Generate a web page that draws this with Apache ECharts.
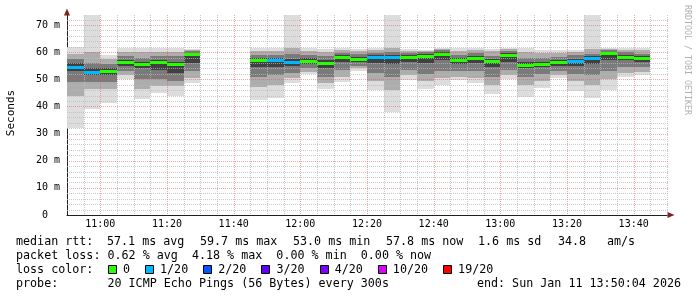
<!DOCTYPE html>
<html><head><meta charset="utf-8">
<script src="https://cdn.jsdelivr.net/npm/echarts@6/dist/echarts.min.js"></script>
<style>html,body{margin:0;padding:0;background:#fff}#c{width:697px;height:297px}</style>
</head><body><div id="c"></div>
<script>
// ---- data (ms), one entry per 5-minute bin ----
const binTimes = ['10:50','10:55','11:00','11:05','11:10','11:15','11:20','11:25',
  '11:45','11:50','11:55','12:00','12:05','12:10','12:15','12:20','12:25','12:30','12:35','12:40',
  '12:45','12:50','12:55','13:00','13:05','13:10','13:15','13:20','13:25','13:30','13:35','13:40'];
const pingMin = [31.9,38.9,41.4,50.3,42.6,45.1,43.8,48.8, 42.4,43.2,48.8,51.9,46.4,49.1,53.0,46.1,37.8,49.7,46.4,47.9, 49.7,48.8,44.6,50.0,43.6,46.9,50.6,45.8,43.2,46.1,51.0,51.6];
const ping3   = [44.0,46.5,46.5,51.5,46.5,47.5,47.5,50.5, 47.0,48.0,50.5,52.8,48.5,51.0,54.0,49.5,46.0,51.5,49.5,50.5, 51.0,50.5,48.0,51.5,48.0,49.5,51.5,49.5,48.0,50.0,52.5,52.8];
const ping6   = [49.0,49.0,49.0,53.0,50.0,50.0,49.5,53.0, 51.0,51.5,52.5,54.0,51.0,53.5,55.0,52.5,51.0,53.5,52.0,53.0, 53.0,53.0,51.0,53.5,51.0,52.0,53.0,52.0,51.5,53.0,54.5,54.5];
const ping9   = [53.0,51.5,51.5,55.0,54.0,53.5,52.5,56.0, 54.5,54.5,55.0,55.5,54.0,56.5,56.5,56.0,55.5,56.5,56.0,57.0, 55.5,56.0,54.5,56.5,54.0,54.5,55.0,55.0,55.5,57.0,57.0,56.5];
const medianRtt = [54.6,52.8,53.0,56.5,55.5,56.5,55.6,59.3, 57.3,57.1,56.5,56.9,55.9,58.1,57.5,58.3,58.3,58.1,58.6,59.3, 57.3,58.0,56.7,59.0,55.3,55.6,56.2,56.7,57.7,59.6,58.3,57.7];
const ping12  = [56.0,54.0,54.0,57.3,56.5,57.3,56.5,59.8, 58.0,58.0,57.5,57.7,57.0,58.8,58.3,58.9,59.0,58.8,59.2,60.0, 58.0,58.7,57.5,59.6,56.3,56.5,57.0,57.5,58.5,60.2,59.0,58.5];
const ping15  = [57.5,56.0,55.5,58.5,58.0,58.5,58.5,60.3, 59.0,59.0,59.5,59.0,58.5,59.8,59.3,59.8,60.0,59.8,59.9,60.7, 59.0,59.7,58.7,60.3,58.0,58.0,58.3,58.8,59.5,60.8,60.0,59.5];
const ping18  = [59.5,60.0,57.5,60.0,60.0,60.0,60.0,60.7, 60.5,60.5,61.5,60.5,60.0,60.8,60.5,60.8,61.5,60.5,60.5,61.3, 60.5,60.8,60.3,61.0,60.0,59.8,59.8,60.2,61.3,61.2,60.8,60.7];
const pingMax = [61.8,73.7,58.9,61.4,61.4,61.4,61.4,61.0, 61.6,61.6,73.7,61.6,61.0,61.6,61.3,61.6,73.7,61.0,60.8,61.6, 61.6,61.6,61.0,61.4,61.4,60.8,60.8,60.8,73.7,61.4,61.4,61.4];
const lossCount = [1,1,0,0,0,0,0,0, 0,1,1,0,0,0,0,1,1,0,0,0, 0,0,0,0,0,0,0,1,1,0,0,0];

const xTickLabels = ['11:00','11:20','11:40','12:00','12:20','12:40','13:00','13:20','13:40'];
const yTickLabels = ['0  ','10 m','20 m','30 m','40 m','50 m','60 m','70 m'];
const lossLegendLabels = ['0','1/20','2/20','3/20','4/20','10/20','19/20'];
const lossLegendCounts = [0,1,2,3,4,10,19];
const lossLegendColors = ['#26ff00','#00b8ff','#0059ff','#5e00ff','#7e00ff','#dd00ff','#ff0000'];

const medianItems = ['median rtt:', '57.1 ms avg', '59.7 ms max', '53.0 ms min', '57.8 ms now', '1.6 ms sd', '34.8', 'am/s'];
const legendLines = [
  null,
  'packet loss: 0.62 % avg  4.18 % max  0.00 % min  0.00 % now',
  'loss color:',
  'probe:       20 ICMP Echo Pings (56 Bytes) every 300s'
];
const endText = 'end: Sun Jan 11 13:50:04 2026';
const sideText = 'RRDTOOL / TOBI OETIKER';
const yName = 'Seconds';

// ---- helpers ----
const toMin = s => { const [h, m] = s.split(':').map(Number); return h * 60 + m; };
const fmtMin = v => { const h = Math.floor(v / 60), m = v % 60; return h + ':' + (m < 10 ? '0' : '') + m; };
const STEP = 5;
const X_MIN = toMin('10:50'), X_MAX = toMin('13:50');
const Y_MAX = 73.7;
const bandColors = ['#dddddd', '#adadad', '#7a7a7a', '#404040'];
const lossColor = n => { let c = lossLegendColors[0]; lossLegendCounts.forEach((k, i) => { if (n >= k) c = lossLegendColors[i]; }); return c; };

const smokeData = [];
const medData = [];
binTimes.forEach((t, i) => {
  const s = toMin(t), e = s + STEP;
  smokeData.push([s, e, pingMin[i], pingMax[i], 0]);
  smokeData.push([s, e, ping3[i], ping18[i], 1]);
  smokeData.push([s, e, ping6[i], ping15[i], 2]);
  smokeData.push([s, e, ping9[i], ping12[i], 3]);
  medData.push([s, e, medianRtt[i], lossCount[i]]);
});

// grid lines: [x, y, kind] kind 0 h-minor, 1 h-major, 2 v-minor, 3 v-major
const gridData = [];
for (let v = 2; v < Y_MAX; v += 2) if (v % 10 !== 0) gridData.push([X_MIN, v, 0]);
for (let v = X_MIN + STEP; v <= X_MAX; v += STEP) if (v % 20 !== 0) gridData.push([v, 0, 2]);
yTickLabels.forEach((l, i) => { if (i > 0) gridData.push([X_MIN, i * 10, 1]); });
xTickLabels.forEach(l => gridData.push([toMin(l), 0, 3]));

const MONO = "'DejaVu Sans Mono', monospace";
const FONT = '11.7px ' + MONO;
const chart = echarts.init(document.getElementById('c'), null, {renderer: 'canvas'});

const graphics = [];
const legendY = [241.5, 255.5, 269.5, 283.5];
const medianX = [16, 107, 200, 293, 386, 478, 558, 607];
medianItems.forEach((txt, i) => graphics.push({type: 'text', x: medianX[i], y: legendY[0],
  style: {text: txt, font: FONT, fill: '#000', textVerticalAlign: 'middle'}}));
legendLines.forEach((txt, i) => { if (txt) graphics.push({type: 'text', x: 16, y: legendY[i],
  style: {text: txt, font: FONT, fill: '#000', textVerticalAlign: 'middle'}}); });
graphics.push({type: 'text', x: 681, y: legendY[3], style: {text: endText, font: FONT, fill: '#000', textAlign: 'right', textVerticalAlign: 'middle'}});
let lx = 108;
const CW = 7.05;
lossLegendLabels.forEach((lab, i) => {
  graphics.push({type: 'rect', shape: {x: Math.round(lx) + 0.5, y: 265.5, width: 8, height: 8},
    style: {fill: lossLegendColors[i], stroke: '#000', lineWidth: 1}});
  graphics.push({type: 'text', x: lx + 15, y: legendY[2], style: {text: lab, font: FONT, fill: '#000', textVerticalAlign: 'middle'}});
  lx = lx + 15 + lab.length * CW + 15;
});
graphics.push({type: 'text', x: 11, y: 113, rotation: Math.PI / 2,
  style: {text: yName, font: '11px ' + MONO, fill: '#000', textAlign: 'center', textVerticalAlign: 'middle'}});
graphics.push({type: 'text', x: 687, y: 60, rotation: -Math.PI / 2,
  style: {text: sideText, font: '8.3px ' + MONO, fill: '#b0b0b0', textAlign: 'center', textVerticalAlign: 'middle'}});

chart.setOption({
  animation: false,
  backgroundColor: '#ffffff',
  textStyle: {fontFamily: MONO},
  grid: {left: 67, right: 30, top: 15, bottom: 82, containLabel: false},
  xAxis: [{
    type: 'value', min: X_MIN, max: X_MAX, interval: 10,
    axisLine: {show: true, onZero: false, lineStyle: {color: '#202020', width: 1}},
    axisTick: {show: false},
    splitLine: {show: false},
    axisLabel: {margin: 4, fontSize: 10, fontFamily: MONO, color: '#000',
      formatter: v => (xTickLabels.indexOf(fmtMin(v)) >= 0 ? fmtMin(v) : '')}
  }, {
    type: 'value', min: X_MIN, max: X_MAX, position: 'bottom',
    axisLine: {show: true, onZero: false, lineStyle: {color: '#7f1f1f', width: 0},
      symbol: ['none', 'triangle'], symbolSize: [6, 7], symbolOffset: [0, 4]},
    axisTick: {show: false}, axisLabel: {show: false}, splitLine: {show: false}
  }],
  yAxis: [{
    type: 'value', min: 0, max: Y_MAX, interval: 10,
    axisLine: {show: true, onZero: false, lineStyle: {color: '#202020', width: 1}},
    axisTick: {show: false},
    splitLine: {show: false},
    axisLabel: {margin: 7, fontSize: 10, fontFamily: MONO, color: '#000',
      formatter: v => { const i = Math.round(v / 10); return Math.abs(v - i * 10) < 1e-6 && yTickLabels[i] ? yTickLabels[i] : ''; }}
  }, {
    type: 'value', min: 0, max: Y_MAX, position: 'left',
    axisLine: {show: true, onZero: false, lineStyle: {color: '#7f1f1f', width: 0},
      symbol: ['none', 'triangle'], symbolSize: [6, 7], symbolOffset: [0, 3]},
    axisTick: {show: false}, axisLabel: {show: false}, splitLine: {show: false}
  }],
  series: [{
    type: 'custom', name: 'smoke', z: 2, silent: true, clip: true,
    encode: {x: [0, 1], y: [2, 3]},
    data: smokeData,
    renderItem: (params, api) => {
      const a = api.coord([api.value(0), api.value(3)]);
      const b = api.coord([api.value(1), api.value(2)]);
      const x0 = Math.round(a[0]), x1 = Math.round(b[0]);
      const y0 = Math.round(a[1]), y1 = Math.round(b[1]);
      return {type: 'rect', shape: {x: x0, y: y0, width: x1 - x0, height: y1 - y0},
        style: {fill: bandColors[api.value(4)]}};
    }
  }, {
    type: 'custom', name: 'grid', z: 3, silent: true,
    encode: {x: 0, y: 1},
    data: gridData,
    renderItem: (params, api) => {
      const cs = params.coordSys;
      const kind = api.value(2);
      const p = api.coord([api.value(0), api.value(1)]);
      let shape;
      if (kind < 2) { const y = Math.round(p[1]) + 0.5; shape = {x1: cs.x, y1: y, x2: cs.x + cs.width + 1, y2: y}; }
      else { const x = Math.round(p[0]) + 0.5; shape = {x1: x, y1: cs.y, x2: x, y2: cs.y + cs.height}; }
      return {type: 'line', shape,
        style: {stroke: (kind % 2) ? 'rgba(224,80,80,0.5)' : 'rgba(184,184,184,0.75)', lineWidth: 1, lineDash: [1, 1]}};
    }
  }, {
    type: 'custom', name: 'median', z: 4, silent: true,
    encode: {x: [0, 1], y: 2},
    data: medData,
    renderItem: (params, api) => {
      const a = api.coord([api.value(0), api.value(2)]);
      const b = api.coord([api.value(1), api.value(2)]);
      const x0 = Math.round(a[0]), x1 = Math.round(b[0]);
      const y = Math.round(a[1]);
      return {type: 'rect', shape: {x: x0, y: y - 1, width: x1 - x0, height: 3},
        style: {fill: lossColor(api.value(3))}};
    }
  }],
  graphic: graphics
});
</script></body></html>
